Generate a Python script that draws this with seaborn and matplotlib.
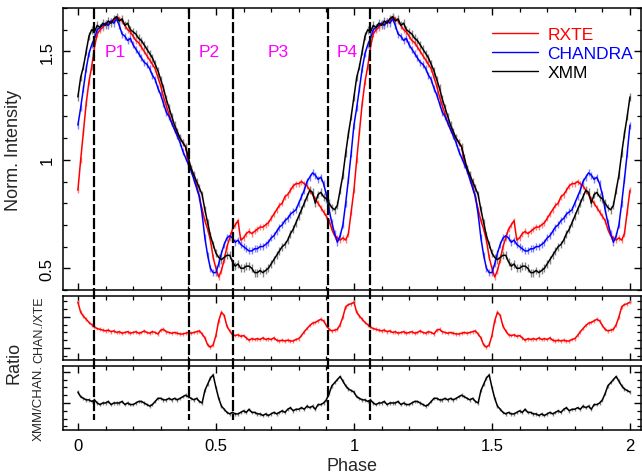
import numpy as np
import pandas as pd
import matplotlib
matplotlib.use("Agg")
import matplotlib.pyplot as plt
import seaborn as sns
from matplotlib.ticker import MultipleLocator, NullFormatter
from matplotlib.lines import Line2D
from matplotlib import transforms

# ---- pulse profiles, one cycle in 0.01 phase bins (shown twice) ----
rxte = [0.86, 1.00, 1.13, 1.26, 1.36, 1.43, 1.52, 1.58, 1.60, 1.61,
        1.63, 1.62, 1.64, 1.64, 1.66, 1.65, 1.64, 1.62, 1.60, 1.59,
        1.57, 1.55, 1.54, 1.52, 1.50, 1.48, 1.46, 1.44, 1.42, 1.38,
        1.34, 1.29, 1.25, 1.21, 1.17, 1.14, 1.12, 1.10, 1.08, 1.06,
        0.99, 0.96, 0.93, 0.88, 0.83, 0.77, 0.72, 0.68, 0.63, 0.55,
        0.50, 0.46, 0.49, 0.54, 0.60, 0.64, 0.68, 0.70, 0.72, 0.63,
        0.64, 0.66, 0.67, 0.66, 0.67, 0.68, 0.69, 0.69, 0.70, 0.71,
        0.73, 0.75, 0.77, 0.79, 0.80, 0.83, 0.84, 0.86, 0.88, 0.89,
        0.89, 0.90, 0.89, 0.88, 0.86, 0.84, 0.82, 0.80, 0.78, 0.76,
        0.74, 0.72, 0.68, 0.65, 0.64, 0.63, 0.64, 0.63, 0.66, 0.76]
chandra = [1.16, 1.24, 1.33, 1.42, 1.49, 1.53, 1.56, 1.60, 1.61, 1.62,
           1.63, 1.62, 1.64, 1.63, 1.65, 1.62, 1.58, 1.57, 1.55, 1.56,
           1.53, 1.51, 1.49, 1.47, 1.45, 1.44, 1.42, 1.39, 1.37, 1.33,
           1.30, 1.26, 1.22, 1.20, 1.17, 1.14, 1.11, 1.08, 1.04, 1.01,
           0.98, 0.95, 0.91, 0.87, 0.83, 0.75, 0.64, 0.56, 0.50, 0.48,
           0.48, 0.52, 0.57, 0.61, 0.64, 0.65, 0.64, 0.62, 0.63, 0.61,
           0.60, 0.59, 0.58, 0.58, 0.59, 0.59, 0.60, 0.60, 0.61, 0.62,
           0.64, 0.65, 0.67, 0.69, 0.70, 0.72, 0.73, 0.75, 0.76, 0.77,
           0.80, 0.83, 0.86, 0.90, 0.92, 0.94, 0.93, 0.91, 0.92, 0.89,
           0.84, 0.77, 0.71, 0.66, 0.62, 0.65, 0.70, 0.80, 0.91, 1.03]
xmm = [1.29, 1.38, 1.43, 1.50, 1.57, 1.60, 1.59, 1.62, 1.61, 1.63,
       1.62, 1.64, 1.63, 1.65, 1.66, 1.64, 1.65, 1.62, 1.63, 1.60,
       1.59, 1.58, 1.56, 1.55, 1.53, 1.51, 1.49, 1.47, 1.44, 1.41,
       1.37, 1.33, 1.28, 1.24, 1.20, 1.16, 1.13, 1.10, 1.08, 1.06,
       1.01, 0.96, 0.93, 0.90, 0.87, 0.84, 0.77, 0.71, 0.65, 0.61,
       0.57, 0.55, 0.54, 0.55, 0.56, 0.56, 0.53, 0.51, 0.52, 0.50,
       0.50, 0.51, 0.51, 0.50, 0.48, 0.48, 0.49, 0.48, 0.49, 0.50,
       0.52, 0.54, 0.56, 0.58, 0.60, 0.61, 0.63, 0.66, 0.68, 0.71,
       0.74, 0.77, 0.80, 0.83, 0.86, 0.85, 0.80, 0.84, 0.85, 0.83,
       0.82, 0.80, 0.78, 0.77, 0.79, 0.86, 0.93, 1.03, 1.12, 1.20]

# ---- intensity ratios, same binning ----
ratio_chan_xte = [1.39, 1.26, 1.21, 1.17, 1.13, 1.10, 1.07, 1.05, 1.04, 1.03,
                  1.02, 1.03, 1.01, 1.02, 1.00, 1.01, 0.99, 1.00, 1.01, 0.99,
                  1.00, 1.01, 0.99, 1.00, 1.02, 1.00, 0.99, 1.01, 1.00, 0.98,
                  1.03, 1.04, 1.01, 1.00, 0.99, 1.00, 0.99, 0.98, 0.98, 0.99,
                  1.00, 0.99, 1.00, 1.01, 1.02, 0.98, 0.93, 0.84, 0.81, 0.84,
                  0.96, 1.15, 1.26, 1.22, 1.08, 1.02, 0.97, 0.96, 0.97, 0.95,
                  0.96, 0.93, 0.90, 0.92, 0.91, 0.92, 0.91, 0.93, 0.91, 0.92,
                  0.91, 0.93, 0.90, 0.89, 0.90, 0.89, 0.90, 0.89, 0.89, 0.91,
                  0.92, 0.96, 1.01, 1.05, 1.09, 1.12, 1.13, 1.15, 1.17, 1.15,
                  1.09, 1.04, 1.02, 1.03, 1.04, 1.10, 1.20, 1.33, 1.36, 1.37]
ratio_xmm_chan = [1.07, 1.04, 1.03, 1.02, 1.02, 1.01, 1.02, 1.00, 0.99, 1.00,
                  1.00, 1.01, 0.99, 1.00, 1.00, 1.00, 1.01, 0.99, 1.00, 0.99,
                  0.99, 1.00, 1.01, 1.01, 1.00, 0.99, 0.98, 0.99, 1.01, 1.03,
                  1.03, 1.02, 1.02, 1.03, 1.02, 1.03, 1.02, 1.03, 1.04, 1.05,
                  1.04, 1.03, 1.02, 1.03, 1.01, 1.00, 1.08, 1.12, 1.16, 1.18,
                  1.10, 1.03, 0.98, 0.96, 0.94, 0.93, 0.94, 0.93, 0.93, 0.94,
                  0.95, 0.94, 0.96, 0.94, 0.94, 0.93, 0.93, 0.92, 0.93, 0.92,
                  0.93, 0.94, 0.93, 0.94, 0.95, 0.94, 0.96, 0.97, 0.95, 0.96,
                  0.96, 0.97, 0.96, 0.98, 0.97, 0.98, 0.96, 0.99, 0.99, 1.00,
                  1.02, 1.06, 1.11, 1.13, 1.15, 1.17, 1.14, 1.11, 1.09, 1.08]

# 1-sigma uncertainties per instrument
profile_err = {"RXTE": 0.014, "CHANDRA": 0.016, "XMM": 0.018}
ratio_err = {"CHAN./XTE": 0.024, "XMM/CHAN.": 0.011}

# pulse-component boundaries and names
phase_bounds = [0.058, 0.403, 0.563, 0.905, 1.06]
comp_names = ["P1", "P2", "P3", "P4"]
comp_label_x = [0.134, 0.475, 0.725, 0.975]

instruments = ["RXTE", "CHANDRA", "XMM"]
colors = {"RXTE": "#ff0000", "CHANDRA": "#0000ff", "XMM": "#000000"}
err_colors = {"RXTE": "#ff8080", "CHANDRA": "#8080ff", "XMM": "#858585"}


def two_cycles(values):
    v = np.asarray(values, dtype=float)
    return np.concatenate([v, v, v[:1]])


phase = np.arange(201) / 100.0

profiles = pd.concat(
    [pd.DataFrame({"phase": phase, "value": two_cycles(vals), "instrument": name})
     for name, vals in zip(instruments, [rxte, chandra, xmm])],
    ignore_index=True)

sns.set_theme(style="ticks")
plt.rcParams["font.family"] = ["Liberation Sans", "DejaVu Sans"]
plt.rcParams.update({
    "axes.linewidth": 1.1,
    "xtick.direction": "in", "ytick.direction": "in",
    "xtick.top": True, "ytick.right": True,
    "xtick.major.size": 5, "ytick.major.size": 5,
    "xtick.minor.size": 3, "ytick.minor.size": 3,
    "xtick.major.width": 1.0, "ytick.major.width": 1.0,
    "xtick.minor.width": 0.9, "ytick.minor.width": 0.9,
    "xtick.color": "black", "ytick.color": "black",
    "axes.edgecolor": "black",
})

W, H = 642, 477
fig = plt.figure(figsize=(W / 100, H / 100), dpi=100)


def px_rect(left, top, right, bottom):
    return [left / W, 1 - bottom / H, (right - left) / W, (bottom - top) / H]


ax_top = fig.add_axes(px_rect(63, 9, 641, 291))
ax_mid = fig.add_axes(px_rect(63, 297, 641, 361))
ax_bot = fig.add_axes(px_rect(63, 367, 641, 431))

# ---- top panel: normalised pulse profiles ----
for name in instruments:
    sub = profiles[profiles["instrument"] == name]
    ax_top.errorbar(sub["phase"], sub["value"], yerr=profile_err[name], fmt="none",
                    ecolor=err_colors[name], elinewidth=1.0, zorder=1)
sns.lineplot(data=profiles, x="phase", y="value", hue="instrument",
             hue_order=instruments, palette=colors, estimator=None, sort=False,
             linewidth=1.1, ax=ax_top, zorder=2)

leg = ax_top.legend(loc="upper left", bbox_to_anchor=(492 / W, 1 - 28 / H),
                    bbox_transform=fig.transFigure, frameon=False, fontsize=12.5,
                    handlelength=2.65, handletextpad=0.55, labelspacing=0.22,
                    borderpad=0, borderaxespad=0)
for txt, name in zip(leg.get_texts(), instruments):
    txt.set_color(colors[name])
for line in leg.get_lines():
    line.set_linewidth(1.0)

for x, lab in zip(comp_label_x, comp_names):
    ax_top.text(x, 1.5, lab, color="#ff00ff", fontsize=12.5, ha="center", va="center")

ax_top.set_xlim(-0.054, 2.04)
ax_top.set_ylim(0.40, 1.70)
ax_top.yaxis.set_major_locator(MultipleLocator(0.5))
ax_top.yaxis.set_minor_locator(MultipleLocator(0.1))
ax_top.set_yticks([0.5, 1.0, 1.5])
ax_top.set_yticklabels(["0.5", "1", "1.5"], rotation=90, va="center", fontsize=12)
ax_top.set_ylabel("")
ax_top.set_xlabel("")

# ---- ratio panels ----
ratio_specs = [
    (ax_mid, ratio_chan_xte, "CHAN./XTE", "#ff0000", "#ff8080", (0.645, 1.47), 0.4, 0.1),
    (ax_bot, ratio_xmm_chan, "XMM/CHAN.", "#000000", "#858585", (0.827, 1.237), 0.2, 0.05),
]
for ax, vals, key, col, ecol, ylim, major, minor in ratio_specs:
    df = pd.DataFrame({"phase": phase, "ratio": two_cycles(vals)})
    ax.errorbar(df["phase"], df["ratio"], yerr=ratio_err[key], fmt="none",
                ecolor=ecol, elinewidth=1.0, zorder=1)
    sns.lineplot(data=df, x="phase", y="ratio", color=col, estimator=None,
                 sort=False, linewidth=1.1, ax=ax, zorder=2)
    ax.set_xlim(-0.054, 2.04)
    ax.set_ylim(*ylim)
    ax.yaxis.set_major_locator(MultipleLocator(major))
    ax.yaxis.set_minor_locator(MultipleLocator(minor))
    ax.yaxis.set_major_formatter(NullFormatter())
    ax.set_ylabel("")
    ax.set_xlabel("")

for ax in (ax_top, ax_mid, ax_bot):
    ax.xaxis.set_major_locator(MultipleLocator(0.5))
    ax.xaxis.set_minor_locator(MultipleLocator(0.1))
    ax.tick_params(which="both", top=True, right=True, direction="in")
    ax.tick_params(axis="y", which="major", pad=6)

ax_top.xaxis.set_major_formatter(NullFormatter())
ax_mid.xaxis.set_major_formatter(NullFormatter())
ax_bot.set_xticks([0, 0.5, 1, 1.5, 2])
ax_bot.set_xticklabels(["0", "0.5", "1", "1.5", "2"], fontsize=12)
ax_bot.tick_params(axis="x", which="major", pad=6)
ax_bot.set_xlabel("Phase", fontsize=13, labelpad=3)

# component boundaries running through all panels
trans = transforms.blended_transform_factory(ax_top.transData, fig.transFigure)
for xb in phase_bounds:
    fig.add_artist(Line2D([xb, xb], [1 - 9 / H, 1 - 421 / H], transform=trans,
                          color="black", linewidth=1.6, linestyle=(0, (5, 1.3)),
                          zorder=5))

# axis titles
fig.text(14 / W, 1 - 150 / H, "Norm. Intensity", rotation=90, ha="center",
         va="center", fontsize=13)
fig.text(14 / W, 1 - 363 / H, "Ratio", rotation=90, ha="center", va="center",
         fontsize=13)
fig.text(39 / W, 1 - 330 / H, "CHAN./XTE", rotation=90, ha="center",
         va="center", fontsize=9)
fig.text(39 / W, 1 - 403 / H, "XMM/CHAN.", rotation=90, ha="center",
         va="center", fontsize=9.5)

fig.savefig("out.png", dpi=100)
